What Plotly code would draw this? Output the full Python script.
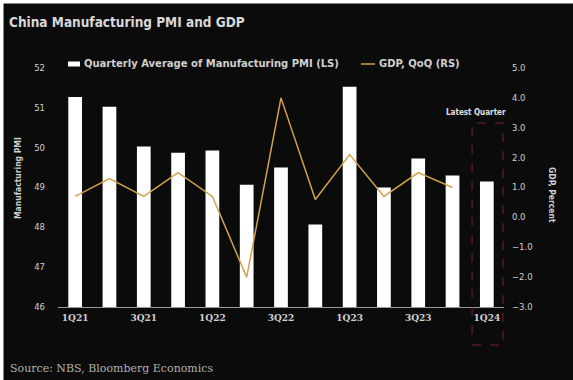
import plotly.graph_objects as go

quarters = ["1Q21", "2Q21", "3Q21", "4Q21", "1Q22", "2Q22", "3Q22", "4Q22",
            "1Q23", "2Q23", "3Q23", "4Q23", "1Q24"]
pmi_avg = [51.27, 51.03, 50.03, 49.87, 49.93, 49.07, 49.5, 48.07,
           51.53, 49.0, 49.73, 49.3, 49.15]
gdp_qoq = [0.7, 1.3, 0.7, 1.5, 0.7, -2.0, 4.0, 0.6, 2.1, 0.7, 1.5, 1.0]
tick_labels = ["1Q21", "3Q21", "1Q22", "3Q22", "1Q23", "3Q23", "1Q24"]
bar_name = "Quarterly Average of Manufacturing PMI (LS)"
line_name = "GDP, QoQ (RS)"

W, H = 573, 380
L, R, T, B = 58, 69, 68, 73
pw, ph = W - L - R, H - T - B

def px(x):
    return (x - L) / pw

def py(y):
    return (H - B - y) / ph

BG = "#0b0b0b"
TXT = "#d0d0d0"
GOLD = "#d4a24c"

fig = go.Figure()
fig.add_trace(go.Bar(
    x=quarters, y=pmi_avg, name=bar_name, showlegend=False,
    marker=dict(color="#ffffff", line=dict(width=0)), width=0.4, yaxis="y",
))
fig.add_trace(go.Scatter(
    x=quarters[:len(gdp_qoq)], y=gdp_qoq, name=line_name, mode="lines", showlegend=False,
    line=dict(color=GOLD, width=1.5), yaxis="y2",
))

fig.update_layout(
    width=W, height=H,
    margin=dict(l=L, r=R, t=T, b=B),
    paper_bgcolor=BG, plot_bgcolor=BG,
    font=dict(family="DejaVu Sans", color=TXT, size=9),
    showlegend=False,
    xaxis=dict(
        type="category", categoryorder="array", categoryarray=quarters,
        range=[-0.5, 12.5], tickmode="array", tickvals=tick_labels,
        ticktext=["<b>%s</b>" % t for t in tick_labels],
        showgrid=False, showline=True, linecolor="#9a9a9a", linewidth=1,
        ticks="", tickfont=dict(family="DejaVu Serif", size=9, color=TXT),
        zeroline=False, ticklabelstandoff=2,
    ),
    yaxis=dict(
        range=[46, 52], dtick=1, showgrid=False, zeroline=False, showline=False,
        ticks="", tickfont=dict(family="DejaVu Sans", size=8.5, color=TXT),
        ticklabelstandoff=12,
    ),
    yaxis2=dict(
        range=[-3, 5], dtick=1, tickformat=".1f", overlaying="y", side="right",
        showgrid=False, zeroline=False, showline=False, ticks="",
        tickfont=dict(family="DejaVu Sans", size=8.5, color=TXT),
        ticklabelstandoff=7,
    ),
)

# axis titles
fig.add_annotation(text="<b>Manufacturing PMI</b>", xref="paper", yref="paper",
                   x=px(18), y=py(178), textangle=-90, showarrow=False,
                   xanchor="center", yanchor="middle",
                   font=dict(size=8.5, color=TXT, family="DejaVu Sans Condensed"))
fig.add_annotation(text="<b>GDP, Percent</b>", xref="paper", yref="paper",
                   x=px(552), y=py(195), textangle=90, showarrow=False,
                   xanchor="center", yanchor="middle",
                   font=dict(size=8.5, color=TXT, family="DejaVu Sans Condensed"))

# title and source
fig.add_annotation(text="<b>China Manufacturing PMI and GDP</b>", xref="paper", yref="paper",
                   x=px(7), y=py(22), xanchor="left", yanchor="middle", showarrow=False,
                   font=dict(size=13.5, color="#d8d8d8", family="DejaVu Sans Condensed"))
fig.add_annotation(text="Source: NBS, Bloomberg Economics", xref="paper", yref="paper",
                   x=px(8), y=py(368), xanchor="left", yanchor="middle", showarrow=False,
                   font=dict(size=11, color="#b0b0b0", family="DejaVu Serif"))

# manual legend
fig.add_shape(type="rect", xref="paper", yref="paper", x0=px(68), x1=px(80),
              y0=py(66.5), y1=py(61.5), line=dict(width=0), fillcolor="#ffffff")
fig.add_annotation(text="<b>%s</b>" % bar_name, xref="paper", yref="paper",
                   x=px(82), y=py(64), xanchor="left", yanchor="middle", showarrow=False,
                   font=dict(size=10, color=TXT, family="DejaVu Sans"))
fig.add_shape(type="line", xref="paper", yref="paper", x0=px(361), x1=px(375),
              y0=py(64), y1=py(64), line=dict(color=GOLD, width=1.5))
fig.add_annotation(text="<b>%s</b>" % line_name, xref="paper", yref="paper",
                   x=px(377), y=py(64), xanchor="left", yanchor="middle", showarrow=False,
                   font=dict(size=10, color=TXT, family="DejaVu Sans"))

# latest quarter highlight
fig.add_annotation(text="<b>Latest Quarter</b>", xref="paper", yref="paper",
                   x=px(476), y=py(112), xanchor="center", yanchor="middle", showarrow=False,
                   font=dict(size=8, color="#e0e0e0", family="DejaVu Sans Condensed"))
fig.add_shape(type="rect", xref="x", yref="paper", x0=11.57, x1=12.47,
              y0=py(345), y1=py(123), line=dict(color="#7a1f33", width=1, dash="dash"),
              fillcolor="rgba(0,0,0,0)")

# white frame strips of the screenshot (top and left)
fig.add_shape(type="rect", xref="paper", yref="paper", x0=px(-2), x1=px(3.5),
              y0=py(H + 2), y1=py(-2), line=dict(width=0), fillcolor="#ffffff", layer="above")
fig.add_shape(type="rect", xref="paper", yref="paper", x0=px(-2), x1=px(W + 2),
              y0=py(3.5), y1=py(-2), line=dict(width=0), fillcolor="#ffffff", layer="above")

fig.write_html("out.html")
